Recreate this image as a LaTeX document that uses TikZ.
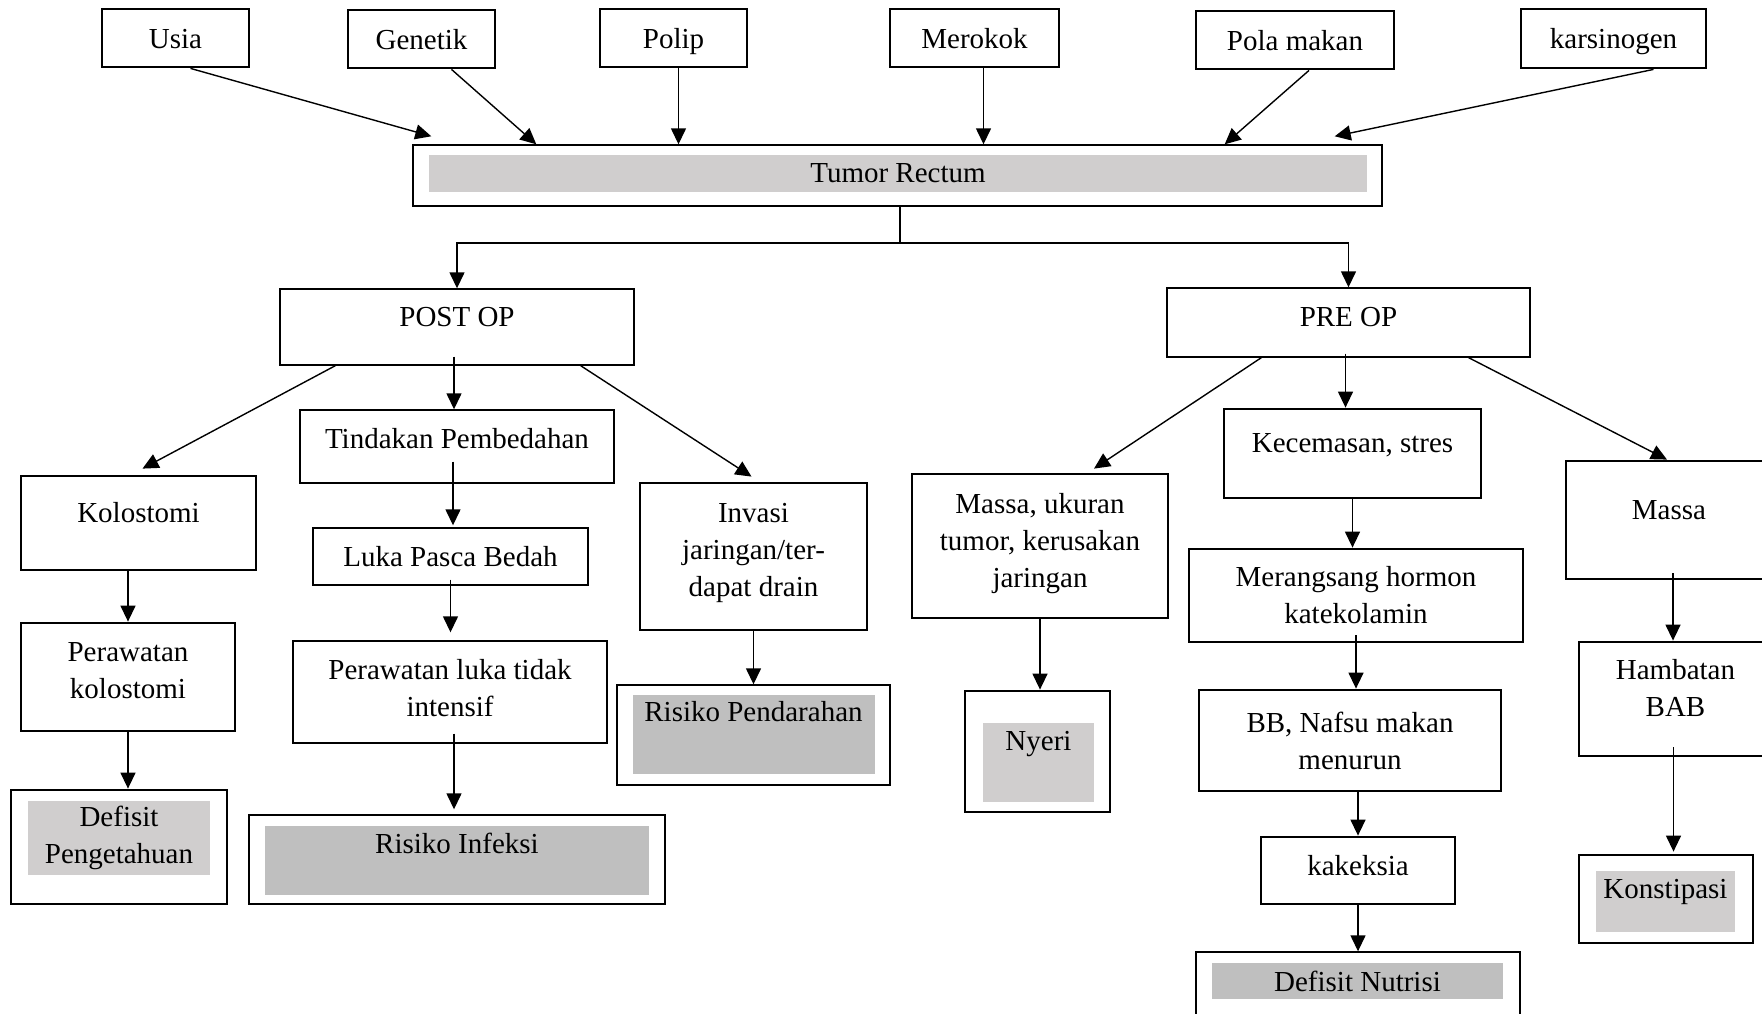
\documentclass[tikz,border=0pt]{standalone}
\usepackage{fontspec}
\setmainfont{Liberation Serif}
\usepackage{tikz}
\usetikzlibrary{arrows.meta, calc}
\definecolor{GrayLight}{HTML}{D0CECE}
\definecolor{GrayDark}{HTML}{BFBFBF}
\newcommand{\pushup}[1]{\rule[-#1]{0pt}{#1}}

\tikzset{
  box/.style={draw, align=center, inner sep=2pt, font=\fontsize{14.5}{18.5}\selectfont},
  boldbox/.style={box, line width=1.4pt},
  causebox/.style={boldbox, text height=10pt, text depth=0pt},
  thinbox/.style={box, line width=0.7pt},
  fillbox/.style={box, draw=none, inner sep=0pt}
}

\begin{document}
\begin{tikzpicture}[>={Triangle[length=8pt,width=7.5pt]}, x=0.5pt, y=-0.5pt, line width=0.7pt]
        \path[use as bounding box, fill=white] (0,0) rectangle (1762,1013);

        % Causes
        \node[causebox, minimum width=73.5pt, minimum height=29pt] (usia) at (175.5,38) {Usia};
        \node[causebox, minimum width=73.5pt, minimum height=29pt] (genetik) at (421.5,39) {Genetik};
        \node[causebox, minimum width=73.5pt, minimum height=29pt] (polip) at (673.5,38) {Polip};
        \node[causebox, minimum width=84.5pt, minimum height=29pt] (merokok) at (974.5,38) {Merokok};
        \node[causebox, minimum width=99pt, minimum height=29pt] (polamakan) at (1295,40) {Pola makan};
        \node[causebox, minimum width=92.5pt, minimum height=29.5pt] (karsinogen) at (1613.5,38.5) {karsinogen};

        % Tumor Rectum
        \node[thinbox, minimum width=484.5pt, minimum height=30.5pt] (tumor) at (897.5,175.5) {};
        \node[fillbox, fill=GrayLight, minimum width=469pt, minimum height=18.5pt] (tumorTxt) at (898,173.5) {Tumor Rectum};

        \node[thinbox, minimum width=177pt, minimum height=38pt] (postop) at (457,327) {POST OP\pushup{10pt}};
        \node[thinbox, minimum width=181.5pt, minimum height=34.5pt] (preop) at (1348.5,322.5) {PRE OP\pushup{6pt}};

        % Post op branch
        \node[boldbox, minimum width=117.5pt, minimum height=47pt] (kolostomi) at (138.5,523) {Kolostomi\pushup{11pt}};
        \node[boldbox, minimum width=107pt, minimum height=54pt] (rawatkolo) at (128,677) {Perawatan\\kolostomi\pushup{7pt}};
        \node[boldbox, minimum width=108pt, minimum height=57pt] (pengetahuan) at (119,847) {};
        \node[fillbox, fill=GrayLight, minimum width=91pt, minimum height=37pt] (pengetahuanTxt) at (119,838) {Defisit\\Pengetahuan};

        \node[thinbox, minimum width=157pt, minimum height=36.5pt] (tindakan) at (457,446.5) {Tindakan Pembedahan\pushup{8pt}};
        \node[thinbox, minimum width=137.5pt, minimum height=28.5pt] (luka) at (450.5,556.5) {Luka Pasca Bedah};
        \node[thinbox, minimum width=157pt, minimum height=51pt] (rawatluka) at (450,692) {Perawatan luka tidak\\intensif\pushup{4pt}};
        \node[thinbox, minimum width=208pt, minimum height=44.5pt] (infeksi) at (457,859.5) {};
        \node[fillbox, fill=GrayDark, minimum width=192pt, minimum height=34.5pt] (infeksiTxt) at (457,860.5) {Risiko Infeksi\pushup{17pt}};

        \node[boldbox, minimum width=113.5pt, minimum height=73.5pt] (invasi) at (753.5,556.5) {Invasi\\jaringan/ter-\\dapat drain\pushup{7pt}};
        \node[thinbox, minimum width=136.5pt, minimum height=50pt] (pendarahan) at (753.5,735) {};
        \node[fillbox, fill=GrayDark, minimum width=121pt, minimum height=39.5pt] (pendarahanTxt) at (753.5,734.5) {Risiko Pendarahan\pushup{23pt}};

        % Pre op branch
        \node[boldbox, minimum width=128pt, minimum height=72pt] (massaukuran) at (1040,546) {Massa, ukuran\\tumor, kerusakan\\jaringan\pushup{6pt}};
        \node[boldbox, minimum width=72.5pt, minimum height=60.5pt] (nyeri) at (1037.5,751.5) {};
        \node[fillbox, fill=GrayLight, minimum width=55.5pt, minimum height=39.5pt] (nyeriTxt) at (1038.5,762.5) {Nyeri\pushup{22pt}};

        \node[boldbox, minimum width=128.5pt, minimum height=44.5pt] (kecemasan) at (1352.5,453.5) {Kecemasan, stres\pushup{11pt}};
        \node[boldbox, minimum width=167pt, minimum height=46.5pt] (merangsang) at (1356,595.5) {Merangsang hormon\\katekolamin};
        \node[boldbox, minimum width=151pt, minimum height=50.5pt] (bb) at (1350,740.5) {BB, Nafsu makan\\menurun};
        \node[boldbox, minimum width=97pt, minimum height=33.5pt] (kakeksia) at (1358,870.5) {kakeksia\pushup{5pt}};
        \node[thinbox, minimum width=162pt, minimum height=39pt] (nutrisi) at (1358,991) {};
        \node[fillbox, fill=GrayDark, minimum width=145.5pt, minimum height=18pt] (nutrisiTxt) at (1357.5,981) {Defisit Nutrisi};

        \node[boldbox, minimum width=103pt, minimum height=59pt] (massa) at (1669,520) {Massa\pushup{10pt}};
        \node[boldbox, minimum width=96.5pt, minimum height=57pt] (hambatan) at (1675.5,699) {Hambatan\\BAB\pushup{11pt}};
        \node[boldbox, minimum width=87pt, minimum height=44pt] (konstipasi) at (1666,899) {};
        \node[fillbox, fill=GrayLight, minimum width=69.5pt, minimum height=30.5pt] (konstipasiTxt) at (1665.5,901.5) {Konstipasi\pushup{13pt}};

        % Causes into Tumor Rectum
        \draw[->] ($(usia.south)+(15,0)$) -- ($(tumor.north west)+(19,-8)$);
        \draw[->] ($(genetik.south)+(30,0)$) -- ($(tumor.north west)+(124,0)$);
        \draw[->] ($(polip.south)+(5,0)$) -- ($(polip.south |- tumor.north)+(5,0)$);
        \draw[->] ($(merokok.south)+(9,0)$) -- ($(merokok.south |- tumor.north)+(9,0)$);
        \draw[->] ($(polamakan.south)+(14,0)$) -- ($(tumor.north east)+(-158,0)$);
        \draw[->] ($(karsinogen.south)+(40,0)$) -- ($(tumor.north east)+(-48,-8)$);

        % Split into post op and pre op
        \coordinate (fork) at (900,243);
        \draw (tumor.south -| fork) -- (fork);
        \draw[->] (fork) -| (postop.north);
        \draw[->] (fork) -| (preop.north);

        % Post op arrows
        \draw[->] ($(postop.south west)+(56,0)$) -- ($(kolostomi.north)+(4,-6)$);
        \draw[->] ($(postop.south)+(-3,-9)$) -- ($(postop.south |- tindakan.north)+(-3,0)$);
        \draw[->] ($(postop.south east)+(-54,0)$) -- ($(invasi.north)+(-2,-5)$);
        \draw[->] ($(tindakan.south)+(-4,-22)$) -- ($(tindakan.south |- luka.north)+(-4,-2)$);
        \draw[->] ($(luka.south)+(0,-6)$) -- ($(luka.south |- rawatluka.north)+(0,-8)$);
        \draw[->] ($(rawatluka.south)+(4,-10)$) -- ($(rawatluka.south |- infeksi.north)+(4,-5)$);
        \draw[->] (rawatkolo.north |- kolostomi.south) -- (rawatkolo.north);
        \draw[->] (rawatkolo.south) -- (rawatkolo.south |- pengetahuan.north);
        \draw[->] (invasi.south) -- (invasi.south |- pendarahan.north);

        % Pre op arrows
        \draw[->] ($(preop.south west)+(95,0)$) -- ($(massaukuran.north)+(54,-4)$);
        \draw[->] ($(preop.south)+(-3,-4)$) -- ($(preop.south |- kecemasan.north)+(-3,0)$);
        \draw[->] ($(preop.south east)+(-62,0)$) -- ($(massa.north)+(-2,0)$);
        \draw[->] (kecemasan.south) -- (kecemasan.south |- merangsang.north);
        \draw[->] ($(merangsang.south)+(0,-8)$) -- (merangsang.south |- bb.north);
        \draw[->] (kakeksia.north |- bb.south) -- (kakeksia.north);
        \draw[->] (kakeksia.south) -- (kakeksia.south |- nutrisi.north);
        \draw[->] (massaukuran.south) -- (massaukuran.south |- nyeri.north);
        \draw[->] ($(massa.south)+(4,-7)$) -- ($(massa.south |- hambatan.north)+(4,0)$);
        \draw[->] ($(hambatan.south)+(-2,-10)$) -- ($(hambatan.south |- konstipasi.north)+(-2,-2)$);
    \end{tikzpicture}
\end{document}
